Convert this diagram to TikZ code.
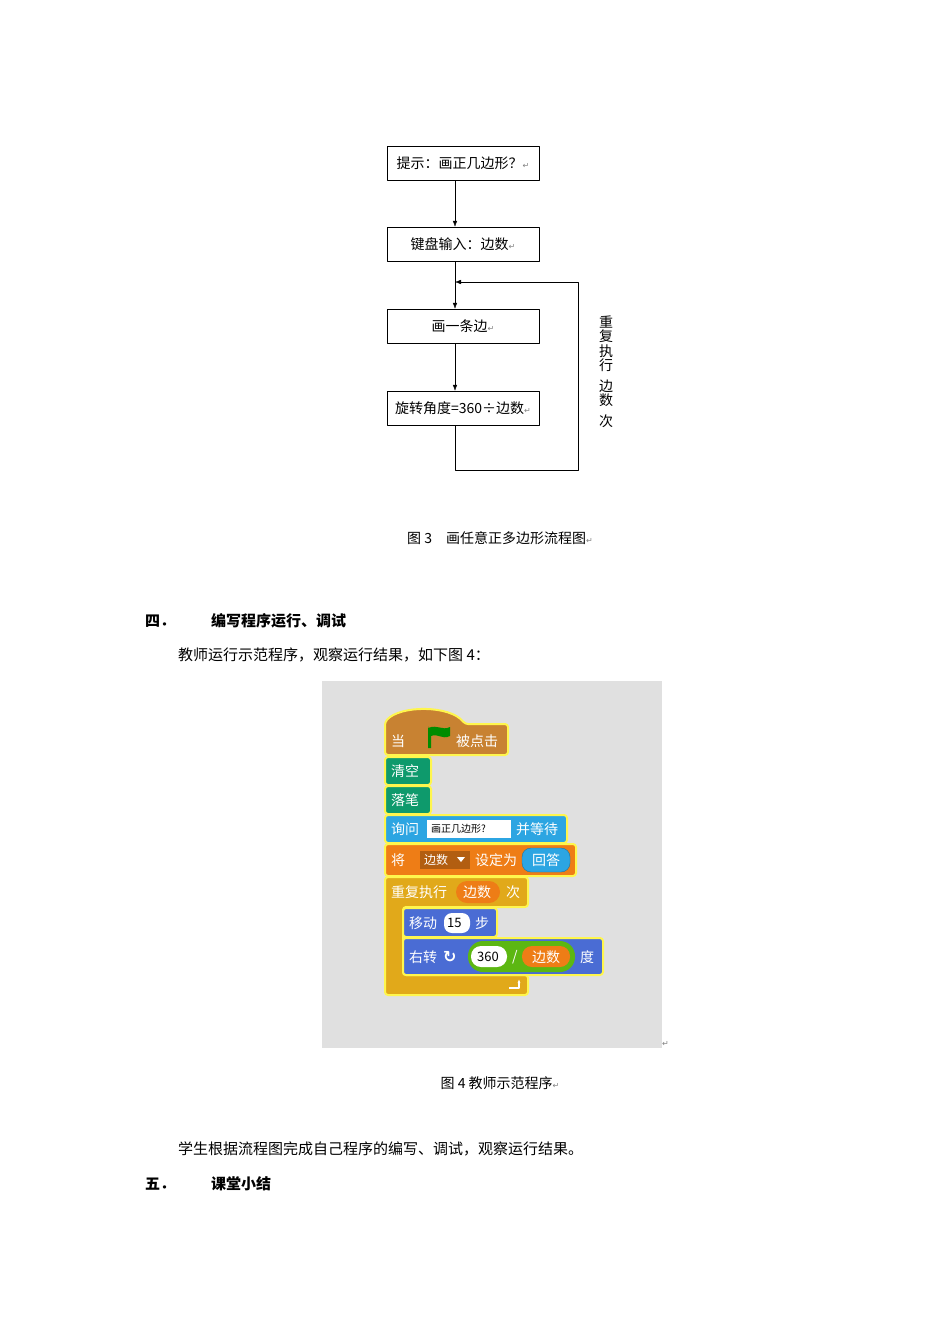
\documentclass[tikz,border=0pt]{standalone}
\usepackage{fontspec}
\setmainfont{Noto Sans CJK SC}
\newfontfamily\symfont{DejaVu Sans}
\usetikzlibrary{arrows.meta, shapes, positioning}
\definecolor{evtbrown}{RGB}{200,130,50}
\definecolor{penteal}{RGB}{14,154,108}
\definecolor{senseblue}{RGB}{44,165,226}
\definecolor{dataorange}{RGB}{238,125,22}
\definecolor{ctrlyellow}{RGB}{225,169,26}
\definecolor{motionblue}{RGB}{74,108,212}
\definecolor{opgreen}{RGB}{92,183,18}
\definecolor{stagegray}{RGB}{224,224,224}
\newcommand{\pmark}{{\symfont\color{gray}\fontsize{8}{8}\selectfont ↵}}
\tikzset{flowbox/.style={draw=black, minimum width=152pt, minimum height=34pt, inner sep=2pt, font=\fontsize{14}{16}\selectfont},
  blockfill/.style={rounded corners=3pt, draw=yellow!70, line width=2pt},
  blocktext/.style={text=white, font=\fontsize{14}{16}\selectfont, anchor=west, inner sep=0pt},
  bodytext/.style={font=\fontsize{15}{18}\selectfont, anchor=west, inner sep=0pt}}

\begin{document}
\begin{tikzpicture}[x=1pt, y=-1pt, line join=bevel]
    \useasboundingbox (0,0) rectangle (950,1344);
    % Flow chart
    \node[flowbox] (ask) at (463,163) {提示：画正几边形？\pmark};
    \node[flowbox] (input) at (463,244) {键盘输入：边数\pmark};
    \node[flowbox] (edge) at (463,326) {画一条边\pmark};
    \node[flowbox] (turn) at (463,408) {旋转角度=360÷边数\pmark};
    \coordinate (loopin) at (455,282);
    \draw[-{Latex[length=6pt]}] (ask.south -| loopin) -- (input.north -| loopin);
    \draw[-{Latex[length=6pt]}] (input.south -| loopin) -- (edge.north -| loopin);
    \draw[-{Latex[length=6pt]}] (edge.south -| loopin) -- (turn.north -| loopin);
    \draw[-{Latex[length=6pt]}] (turn.south -| loopin) -- ++(0,45) -| (578,282) -- (loopin);
    \node[font=\fontsize{14}{14.5}\selectfont, align=center, anchor=north] (times) at (606,312) {重\\复\\执\\行\\[6pt]边\\数\\[6pt]次};
    % Caption
    \node[font=\fontsize{14}{16}\selectfont] (cap3) at (500,538) {图 3\quad 画任意正多边形流程图\pmark};
    % Text
    \node[bodytext, font=\bfseries\fontsize{15}{18}\selectfont] (sec4) at (145,621) {四．};
    \node[bodytext, font=\bfseries\fontsize{15}{18}\selectfont] (sec4t) at (211,621) {编写程序运行、调试};
    \node[bodytext] (para1) at (178,655) {教师运行示范程序，观察运行结果，如下图 4：};
    % Stage
    \fill[stagegray] (322,681) rectangle (662,1048);
    \node[anchor=west, inner sep=0pt] (pm) at (662,1044) {\pmark};
    % Scripts
    \fill[blockfill, fill=evtbrown] (385,755) -- (385,722) .. controls (400,705) and (450,705) .. (465,724) -- (508,724) -- (508,755) -- cycle;
    \node[blocktext] (when) at (391,741) {当};
    \fill[green!55!black] (428,726) -- (428,748) -- (431,748) -- (431,736) .. controls (438,733) and (442,740) .. (450,736) -- (450,727) .. controls (442,731) and (438,724) .. (428,728) -- cycle;
    \node[blocktext] (clicked) at (456,741) {被点击};
    \fill[blockfill, fill=penteal] (385,757) rectangle (431,785);
    \node[blocktext] (clear) at (391,771) {清空};
    \fill[blockfill, fill=penteal] (385,786) rectangle (431,814);
    \node[blocktext] (pendown) at (391,800) {落笔};
    \fill[blockfill, fill=senseblue] (385,815) rectangle (567,843);
    \node[blocktext] (askb) at (391,829) {询问};
    \fill[white] (427,820) rectangle (511,838);
    \node[anchor=west, inner sep=0pt, font=\fontsize{10}{12}\selectfont] (q) at (431,829) {画正几边形?};
    \node[blocktext] (wait) at (516,829) {并等待};
    \fill[blockfill, fill=dataorange] (385,844) rectangle (576,876);
    \node[blocktext] (set) at (391,860) {将};
    \fill[dataorange!75!black] (420,851) rectangle (470,869);
    \node[blocktext, font=\fontsize{12}{14}\selectfont] (var) at (424,860) {边数};
    \fill[white] (457,857) -- (465,857) -- (461,862) -- cycle;
    \node[blocktext] (setto) at (475,860) {设定为};
    \fill[senseblue, draw=senseblue!70!black, rounded corners=9pt] (522,848) rectangle (570,872);
    \node[blocktext] (answer) at (532,860) {回答};
    \fill[blockfill, fill=ctrlyellow] (385,877) -- (528,877) -- (528,907) -- (403,907) -- (403,975) -- (528,975) -- (528,995) -- (385,995) -- cycle;
    \node[blocktext] (repeat) at (391,892) {重复执行};
    \fill[dataorange, rounded corners=11pt] (456,881) rectangle (500,903);
    \node[blocktext] (count) at (463,892) {边数};
    \node[blocktext] (timesb) at (506,892) {次};
    \draw[white, line width=1.5pt, -{Latex[length=4pt]}] (509,988) -- (519,988) -- (519,979);
    \fill[blockfill, fill=motionblue] (403,908) rectangle (497,937);
    \node[blocktext] (move) at (409,923) {移动};
    \fill[white, rounded corners=8pt] (444,913) rectangle (470,933);
    \node[anchor=west, inner sep=0pt, font=\fontsize{13}{14}\selectfont] (steps) at (447,923) {15};
    \node[blocktext] (stepw) at (475,923) {步};
    \fill[blockfill, fill=motionblue] (403,938) rectangle (603,975);
    \node[blocktext] (right) at (409,957) {右转};
    \node[blocktext, font=\bfseries\fontsize{16}{16}\selectfont] (rot) at (443,957) {\symfont ↻};
    \fill[opgreen, rounded corners=15pt] (468,941) rectangle (575,972);
    \fill[white, rounded corners=10pt] (471,946) rectangle (507,967);
    \node[anchor=west, inner sep=0pt, font=\fontsize{13}{14}\selectfont] (deg) at (477,957) {360};
    \node[blocktext] (div) at (512,957) {/};
    \fill[dataorange, rounded corners=10pt] (522,946) rectangle (570,967);
    \node[blocktext] (sides) at (532,957) {边数};
    \node[blocktext] (degw) at (580,957) {度};
    % Caption and closing text
    \node[font=\fontsize{14}{16}\selectfont] (cap4) at (500,1083) {图 4 教师示范程序\pmark};
    \node[bodytext] (para2) at (178,1149) {学生根据流程图完成自己程序的编写、调试，观察运行结果。};
    \node[bodytext, font=\bfseries\fontsize{15}{18}\selectfont] (sec5) at (145,1184) {五．};
    \node[bodytext, font=\bfseries\fontsize{15}{18}\selectfont] (sec5t) at (211,1184) {课堂小结};
\end{tikzpicture}
\end{document}
